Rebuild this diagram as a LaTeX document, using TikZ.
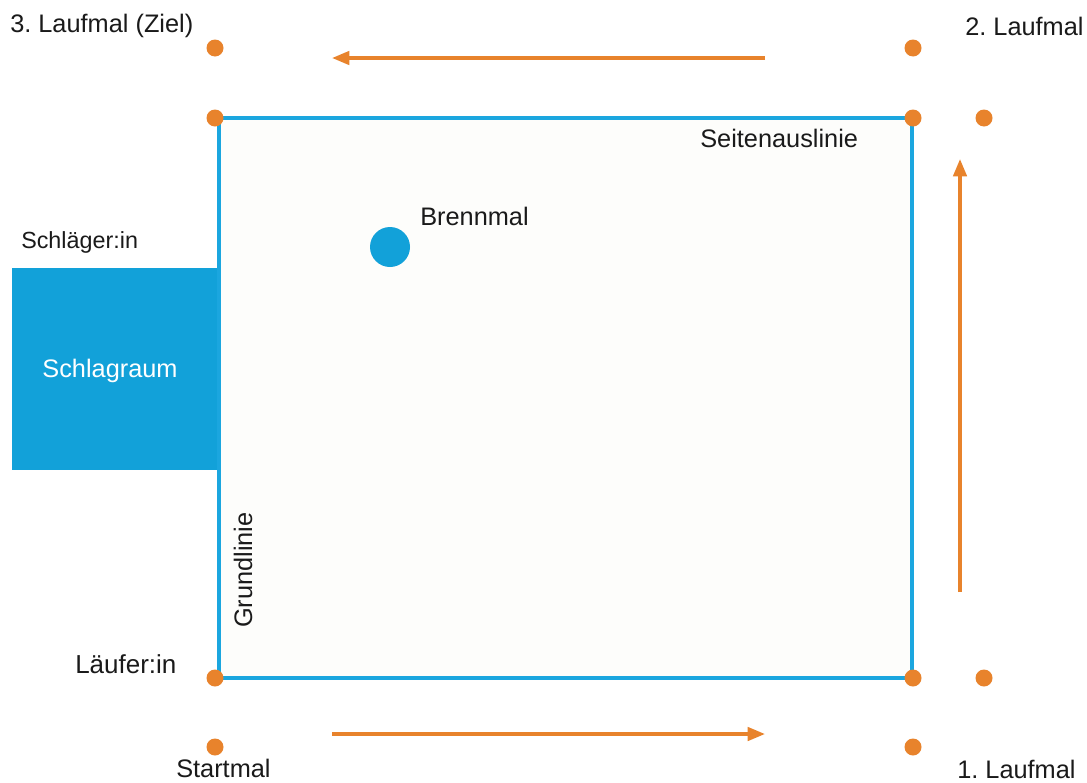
\documentclass[tikz,border=0pt]{standalone}
\usepackage{fontspec}
\setmainfont{Liberation Sans}
\usetikzlibrary{arrows.meta}
\definecolor{fieldline}{HTML}{1BA6DF}
\definecolor{zone}{HTML}{12A1D9}
\definecolor{markorange}{HTML}{E8832C}
\definecolor{labeltext}{HTML}{1A1A1A}
\definecolor{fieldfill}{HTML}{FDFDFB}
\frenchspacing
\begin{document}
\begin{tikzpicture}[x=0.75pt,y=-0.75pt,
  base/.style={circle,fill=markorange,inner sep=0pt,minimum size=12.75pt},
  lbl/.style={inner sep=0pt,text=labeltext,font=\fontsize{19}{21}\selectfont},
  runarrow/.style={draw=markorange,line width=2.6pt,-{Triangle[length=13pt,width=10pt]}},
  boundary/.style={draw=fieldline,line width=2.6pt}]
\useasboundingbox (0,0) rectangle (1087,782);
\fill[white] (0,0) rectangle (1087,782);

% playing field
\coordinate (fTL) at (219,118);
\coordinate (fBR) at (912,678);
\fill[fieldfill] (fTL) rectangle (fBR);

% batting area
\node[fill=zone,inner sep=0pt,minimum width=155.25pt,minimum height=151.5pt,anchor=north west] (schlagraum) at (12,268) {};
\node[lbl,text=white,anchor=base] (schlagraumtxt) at (110,377) {Schlagraum};

\draw[boundary] (fTL) rectangle (fBR);

% bases
\node[base] (ziel) at (215,48) {};
\node[base] (eckeOL) at (215,118) {};
\node[base] (mal2) at (913,48) {};
\node[base] (eckeOR) at (913,118) {};
\node[base] (mal2b) at (984,118) {};
\node[base] (eckeUL) at (215,678) {};
\node[base] (start) at (215,747) {};
\node[base] (eckeUR) at (913,678) {};
\node[base] (mal1b) at (984,678) {};
\node[base] (mal1) at (913,747) {};

% burning base
\node[circle,fill=zone,inner sep=0pt,minimum size=30pt] (brennmal) at (390,247) {};

% running direction
\coordinate (aTopS) at (765,58);
\coordinate (aTopE) at (332,58);
\coordinate (aBotS) at (332,734);
\coordinate (aBotE) at (765,734);
\coordinate (aRgtS) at (960,592);
\coordinate (aRgtE) at (960,159);
\draw[runarrow] (aTopS) -- (aTopE);
\draw[runarrow] (aBotS) -- (aBotE);
\draw[runarrow] (aRgtS) -- (aRgtE);

% labels
\node[lbl,anchor=base west] (tZiel) at (10,32) {3. Laufmal (Ziel)};
\node[lbl,anchor=base west] (tMal2) at (965,35) {2. Laufmal};
\node[lbl,anchor=base west] (tMal1) at (957,778) {1. Laufmal};
\node[lbl,anchor=base west] (tStart) at (176,777) {Startmal};
\node[lbl,anchor=base west,font=\fontsize{19.5}{21}\selectfont] (tLaeufer) at (75,673) {Läufer:in};
\node[lbl,anchor=base west,font=\fontsize{17.5}{19}\selectfont] (tSchlaeger) at (21,248) {Schläger:in};
\node[lbl,anchor=base west] (tBrenn) at (420,225) {Brennmal};
\node[lbl,anchor=base west] (tSeite) at (700,147) {Seitenauslinie};
\node[lbl,anchor=base west,rotate=90] (tGrund) at (252,628) {Grundlinie};
\end{tikzpicture}
\end{document}
